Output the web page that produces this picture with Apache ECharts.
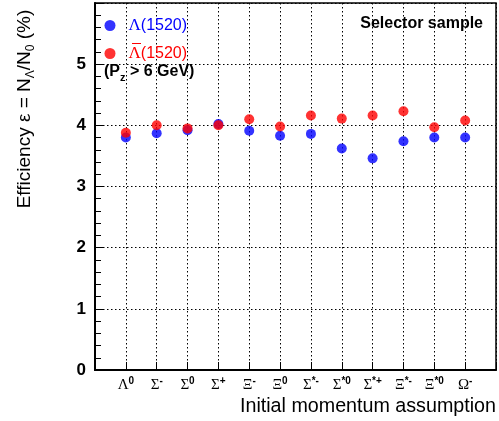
<!DOCTYPE html>
<html>
<head>
<meta charset="utf-8">
<script src="https://cdn.jsdelivr.net/npm/echarts@6/dist/echarts.min.js"></script>
<style>html,body{margin:0;padding:0;background:#fff}#c{width:499px;height:421px}</style>
</head>
<body>
<div id="c"></div>
<script>
// ---- data ----
var categories = ['Λ0','Σ-','Σ0','Σ+','Ξ-','Ξ0','Σ*-','Σ*0','Σ*+','Ξ*-','Ξ*0','Ω-'];
var catGreek = ['Λ','Σ','Σ','Σ','Ξ','Ξ','Σ','Σ','Σ','Ξ','Ξ','Ω'];
var catSup   = ['0','-','0','+','-','0','*-','*0','*+','*-','*0','-'];
var lambdaEff     = [3.80, 3.87, 3.92, 4.02, 3.91, 3.83, 3.86, 3.62, 3.46, 3.74, 3.80, 3.80];
var antiLambdaEff = [3.88, 4.00, 3.95, 4.00, 4.10, 3.98, 4.16, 4.11, 4.16, 4.23, 3.97, 4.08];
var yTicks = [0, 1, 2, 3, 4, 5];

var SANS = '"Liberation Sans", Arial, Helvetica, sans-serif';
var SERIF = '"Liberation Serif", "Times New Roman", serif';

function pts(arr){ return arr.map(function(v,i){ return [i+1, v]; }); }

var chart = echarts.init(document.getElementById('c'), null, {renderer:'canvas'});
var option = {
  backgroundColor: '#fff',
  animation: false,
  grid: { left: 95, right: 1, top: 3, bottom: 51, show: true, borderColor: '#000', borderWidth: 1.5, backgroundColor: 'transparent' },
  legend: {
    left: 104.5, top: 17, orient: 'vertical', itemGap: 11, padding: 0,
    icon: 'circle', itemWidth: 11, itemHeight: 11,
    data: [
      { name: 'Λ(1520)', textStyle: { color: '#0000ff' } },
      { name: 'anti', textStyle: { color: '#ff0000' } }
    ],
    formatter: function(n){
      return '{g|Λ}{n|(1520)}';
    },
    textStyle: {
      padding: [0,0,0,8],
      rich: {
        g: { fontFamily: SERIF, fontSize: 17 },
        n: { fontFamily: SANS, fontSize: 16 }
      }
    }
  },
  xAxis: {
    type: 'value', min: 0, max: 13, interval: 1,
    axisLine: { show: true, lineStyle: { color: '#000', width: 2 } },
    axisTick: { show: true, inside: true, length: 8, lineStyle: { color: '#000', width: 1 } },
    splitLine: { show: true, lineStyle: { color: '#000', type: [1.5, 2.5], width: 1 } },
    axisLabel: {
      margin: 6,
      formatter: function(v){
        var i = v - 1;
        if (i < 0 || i >= categories.length) return '';
        return '{g|' + catGreek[i] + '}{s|' + catSup[i] + '}';
      },
      rich: {
        g: { fontFamily: SERIF, fontSize: 15, color: '#000' },
        s: { fontFamily: SANS, fontSize: 10, fontWeight: 'bold', color: '#000', padding: [0,0,9,0] }
      }
    },
    name: 'Initial momentum assumption',
    nameLocation: 'end', nameGap: 0,
    nameTextStyle: { fontFamily: SANS, fontSize: 19.7, color: '#000', align: 'right', verticalAlign: 'top', padding: [27, 0, 0, 0] }
  },
  yAxis: {
    type: 'value', min: 0, max: 6, interval: 1,
    axisLine: { show: true, lineStyle: { color: '#000', width: 2 } },
    axisTick: { show: true, inside: true, length: 9, lineStyle: { color: '#000', width: 1 } },
    minorTick: { show: true, splitNumber: 5, length: 6, lineStyle: { color: '#000', width: 1 } },
    splitLine: { show: true, lineStyle: { color: '#000', type: [1.5, 2.5], width: 1 } },
    axisLabel: {
      margin: 9, fontFamily: SANS, fontSize: 17, fontWeight: 'bold', color: '#000',
      formatter: function(v){ return yTicks.indexOf(v) >= 0 ? String(v) : ''; }
    }
  },
  graphic: [
    {
      type: 'text', x: 25, y: 109, rotation: Math.PI/2,
      style: {
        x: 0, y: 0, align: 'center', verticalAlign: 'middle',
        text: '{t|Efficiency ε = N}{sb|Λ}{t|/N}{sb|0}{t| (%)}',
        rich: {
          t: { fontFamily: SANS, fontSize: 19, fill: '#000' },
          sb: { fontFamily: SANS, fontSize: 12, fill: '#000', padding: [12,0,0,0] }
        }
      }
    },
    {
      type: 'text', x: 483, y: 24,
      style: { text: 'Selector sample', align: 'right', verticalAlign: 'middle', fontFamily: SANS, fontSize: 16, fontWeight: 'bold', fill: '#000' }
    },
    {
      type: 'text', x: 104, y: 72,
      style: {
        align: 'left', verticalAlign: 'middle',
        text: '{t|(P}{sb|z}{t| > 6 GeV)}',
        rich: {
          t: { fontFamily: SANS, fontSize: 16, fontWeight: 'bold', fill: '#000' },
          sb: { fontFamily: SANS, fontSize: 11, fontWeight: 'bold', fill: '#000', padding: [11,0,0,0] }
        }
      }
    },
    {
      type: 'line', shape: { x1: 132, y1: 43.5, x2: 141, y2: 43.5 },
      style: { stroke: '#ff0000', lineWidth: 1 }
    }
  ],
  series: [
    { name: 'Λ(1520)', type: 'scatter', symbol: 'circle', symbolSize: 10, itemStyle: { color: '#0000ff' }, data: pts(lambdaEff), z: 3 },
    { name: 'anti', type: 'scatter', symbol: 'circle', symbolSize: 10, itemStyle: { color: '#ff0000' }, data: pts(antiLambdaEff), z: 4 }
  ]
};
chart.setOption(option);
</script>
</body>
</html>
